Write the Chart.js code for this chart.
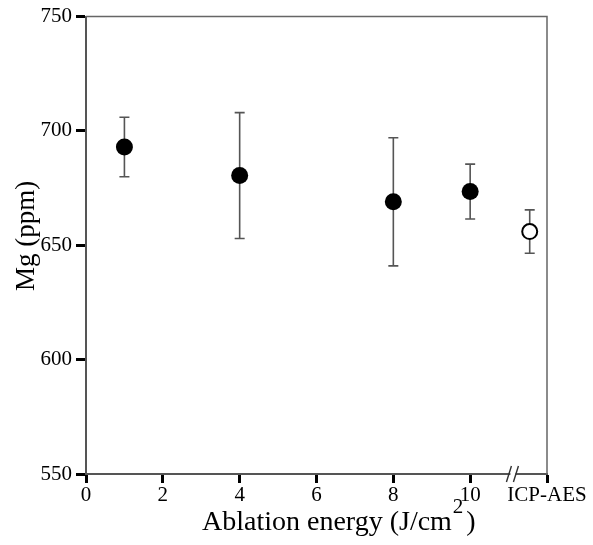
<!DOCTYPE html>
<html lang="en">
<head>
  <meta charset="UTF-8">
  <title>Mg vs ablation energy</title>
  <script src="https://cdn.jsdelivr.net/npm/chart.js"></script>
  <style>
    body { margin: 0; background: #fff; }
    #wrap { width: 593px; height: 545px; }
  </style>
</head>
<body>
  <div id="wrap"><canvas id="mgChart" width="593" height="545"></canvas></div>

  <script>
    // LA-ICP-MS results at each fluence
    const energies = [1, 4, 8, 10];
    const mgMeans = [693, 680.5, 669, 673.5];
    const mgErrors = [13, 27.5, 28, 12];

    // Reference value from solution ICP-AES, placed after the axis break
    const icpPosition = 11.55;
    const icpMean = 656;
    const icpError = 9.5;

    const xTicks = [0, 2, 4, 6, 8, 10, 12];
    const xTickLabels = ['0', '2', '4', '6', '8', '10', 'ICP-AES'];
    const yTicks = [550, 600, 650, 700, 750];
    const axisBreakAt = 11.1;

    const serif = '"Liberation Serif", "DejaVu Serif", serif';

    // vertical error bars with caps, drawn under the markers
    const errorBars = {
      id: 'errorBars',
      beforeDatasetsDraw(chart) {
        const { ctx, scales: { x, y } } = chart;
        ctx.save();
        ctx.strokeStyle = '#555';
        ctx.lineWidth = 1.6;
        chart.data.datasets.forEach(ds => {
          ds.data.forEach(p => {
            const px = x.getPixelForValue(p.x);
            const top = y.getPixelForValue(p.y + p.err);
            const bot = y.getPixelForValue(p.y - p.err);
            ctx.beginPath();
            ctx.moveTo(px, top); ctx.lineTo(px, bot);
            ctx.moveTo(px - 5, top); ctx.lineTo(px + 5, top);
            ctx.moveTo(px - 5, bot); ctx.lineTo(px + 5, bot);
            ctx.stroke();
          });
        });
        ctx.restore();
      }
    };

    // top/right frame, axis break and both axis titles
    const frameAndTitles = {
      id: 'frameAndTitles',
      afterDraw(chart) {
        const { ctx, chartArea: a, scales: { x } } = chart;
        ctx.save();
        ctx.strokeStyle = '#666';
        ctx.lineWidth = 1.5;
        ctx.beginPath();
        ctx.moveTo(a.left, a.top); ctx.lineTo(a.right, a.top);
        ctx.lineTo(a.right, a.bottom);
        ctx.stroke();

        const bx = x.getPixelForValue(axisBreakAt);
        ctx.fillStyle = '#fff';
        ctx.fillRect(bx - 2, a.bottom - 3, 5, 6);
        ctx.strokeStyle = '#333';
        ctx.lineWidth = 1.4;
        ctx.beginPath();
        ctx.moveTo(bx - 6, a.bottom + 8); ctx.lineTo(bx - 1, a.bottom - 8);
        ctx.moveTo(bx + 1, a.bottom + 8); ctx.lineTo(bx + 6, a.bottom - 8);
        ctx.stroke();

        // x title with a superscript 2
        const main = 'Ablation energy (J/cm';
        ctx.fillStyle = '#000';
        ctx.textBaseline = 'alphabetic';
        ctx.textAlign = 'left';
        ctx.font = '28px ' + serif;
        const w1 = ctx.measureText(main).width;
        const sx = 202;
        const base = 530;
        ctx.fillText(main, sx, base);
        ctx.font = '21px ' + serif;
        const w2 = ctx.measureText('2').width;
        ctx.fillText('2', sx + w1 + 1, base - 17);
        ctx.font = '28px ' + serif;
        ctx.fillText(')', sx + w1 + w2 + 4, base);

        // y title
        ctx.translate(34, 236);
        ctx.rotate(-Math.PI / 2);
        ctx.textAlign = 'center';
        ctx.font = '27px ' + serif;
        ctx.fillText('Mg (ppm)', 0, 0);
        ctx.restore();
      }
    };

    new Chart(document.getElementById('mgChart'), {
      type: 'scatter',
      data: {
        datasets: [
          {
            label: 'LA-ICP-MS',
            data: energies.map((e, i) => ({ x: e, y: mgMeans[i], err: mgErrors[i] })),
            pointRadius: 8.5,
            pointHoverRadius: 8.5,
            backgroundColor: '#000',
            borderColor: '#000',
            borderWidth: 0
          },
          {
            label: 'ICP-AES',
            data: [{ x: icpPosition, y: icpMean, err: icpError }],
            pointRadius: 7.5,
            pointHoverRadius: 7.5,
            backgroundColor: '#fff',
            borderColor: '#000',
            borderWidth: 2
          }
        ]
      },
      options: {
        responsive: false,
        animation: false,
        layout: { padding: { top: 15, right: 46, left: 0, bottom: 0 } },
        plugins: {
          legend: { display: false },
          tooltip: { enabled: false }
        },
        scales: {
          x: {
            type: 'linear',
            min: 0,
            max: 12,
            afterBuildTicks: s => { s.ticks = xTicks.map(v => ({ value: v })); },
            afterFit: s => { s.height = 71; },
            ticks: {
              color: '#000',
              font: { family: serif, size: 21 },
              padding: 0,
              maxRotation: 0,
              autoSkip: false,
              callback: (v) => xTickLabels[xTicks.indexOf(v)]
            },
            grid: {
              drawOnChartArea: false,
              drawTicks: true,
              tickLength: 9,
              tickWidth: 3,
              tickColor: '#000'
            },
            border: { color: '#555', width: 2 }
          },
          y: {
            min: 550,
            max: 750,
            afterBuildTicks: s => { s.ticks = yTicks.map(v => ({ value: v })); },
            afterFit: s => { s.width = 86; },
            ticks: {
              color: '#000',
              font: { family: serif, size: 21 },
              padding: 4
            },
            grid: {
              drawOnChartArea: false,
              drawTicks: true,
              tickLength: 10,
              tickWidth: 3,
              tickColor: '#000'
            },
            border: { color: '#555', width: 2 }
          }
        }
      },
      plugins: [errorBars, frameAndTitles]
    });
  </script>
</body>
</html>
